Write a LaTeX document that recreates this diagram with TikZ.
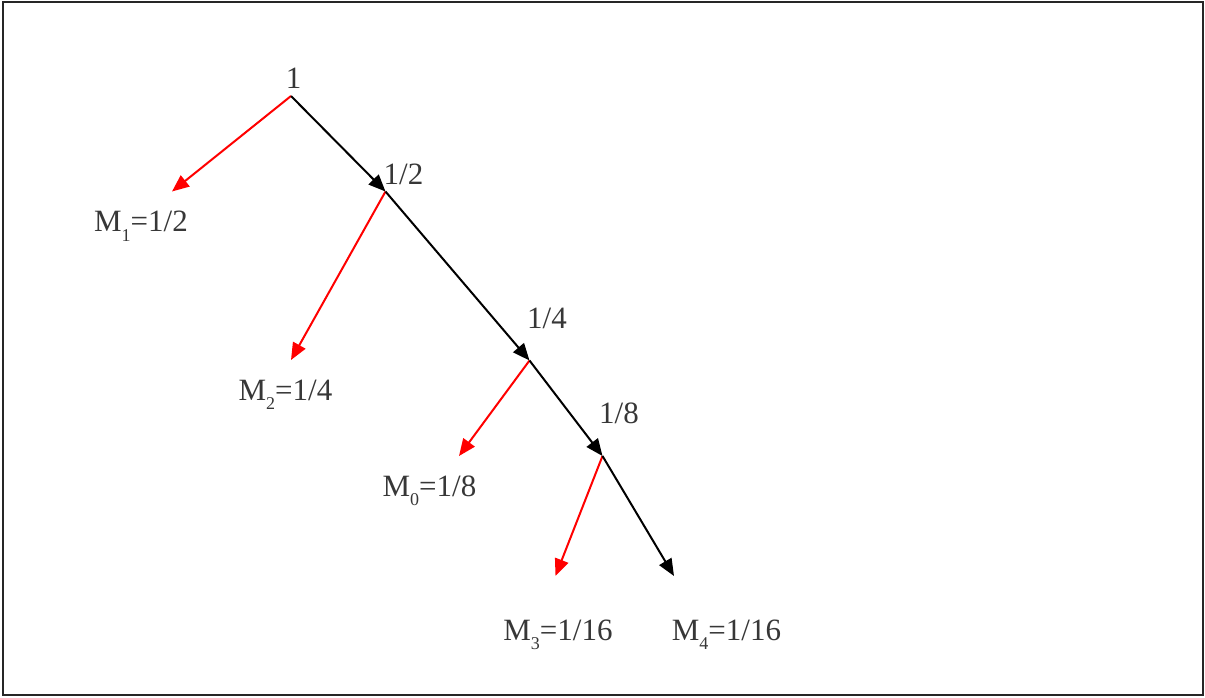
\documentclass[tikz,border=0pt]{standalone}
\usepackage{fontspec}
\setmainfont{Liberation Serif}
\usetikzlibrary{arrows.meta}
\definecolor{txt}{RGB}{55,55,55}
\definecolor{redline}{RGB}{255,0,0}
\newcommand{\sbs}[1]{\raisebox{-0.32em}{\fontsize{18}{18}\selectfont #1}}
\begin{document}
\begin{tikzpicture}[x=1pt,y=-1pt,
  lbl/.style={anchor=base,text=txt,font=\fontsize{31}{35}\selectfont,inner sep=0pt},
  blk/.style={draw=black,line width=2pt,-{Triangle[length=17pt,width=14pt]}},
  rd/.style={draw=redline,line width=2pt,-{Triangle[length=17pt,width=14pt]}}]
\useasboundingbox (0,0) rectangle (1205,697);
\draw[line width=2pt,black!85] (2.5,1.5) rectangle (1203,695);
% branch points
\coordinate (p0) at (291,96);
\coordinate (p1) at (385.5,191.5);
\coordinate (p2) at (529.5,360.5);
\coordinate (p3) at (602.5,456);
\coordinate (e1) at (172,191.5);
\coordinate (e2) at (291,360);
\coordinate (e0) at (459,456);
\coordinate (e3) at (555.5,576);
\coordinate (e4) at (674,576);
% labels
\node[lbl] (l0) at (293.5,88) {1};
\node[lbl] (l1) at (403.5,184) {1/2};
\node[lbl] (l2) at (547,328) {1/4};
\node[lbl] (l3) at (619,423) {1/8};
\node[lbl] (m1) at (141,231.5) {M\sbs{1}=1/2};
\node[lbl] (m2) at (285.5,400) {M\sbs{2}=1/4};
\node[lbl] (m0) at (429.5,496) {M\sbs{0}=1/8};
\node[lbl] (m3) at (558,640) {M\sbs{3}=1/16};
\node[lbl] (m4) at (726.5,640) {M\sbs{4}=1/16};
% connectors
\draw[rd] (p0) -- (e1);
\draw[blk] (p0) -- (p1);
\draw[rd] (p1) -- (e2);
\draw[blk] (p1) -- (p2);
\draw[rd] (p2) -- (e0);
\draw[blk] (p2) -- (p3);
\draw[rd] (p3) -- (e3);
\draw[blk] (p3) -- (e4);
\end{tikzpicture}
\end{document}
